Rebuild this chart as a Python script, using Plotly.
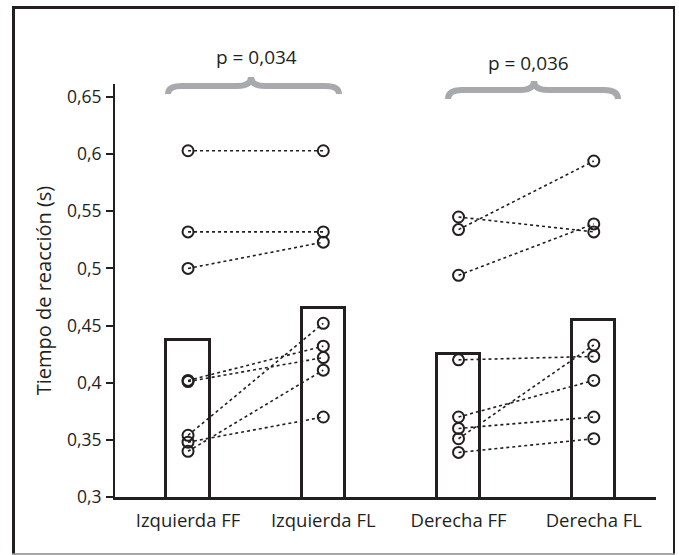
import plotly.graph_objects as go

categories = ["Izquierda FF", "Izquierda FL", "Derecha FF", "Derecha FL"]
bar_means = [0.437, 0.4655, 0.425, 0.4545]

izq_ff = [0.603, 0.532, 0.500, 0.402, 0.401, 0.354, 0.348, 0.340]
izq_fl = [0.603, 0.532, 0.523, 0.432, 0.422, 0.452, 0.370, 0.411]
der_ff = [0.545, 0.534, 0.494, 0.420, 0.370, 0.360, 0.351, 0.339]
der_fl = [0.532, 0.594, 0.539, 0.423, 0.402, 0.370, 0.433, 0.351]

tick_vals = [0.3, 0.35, 0.4, 0.45, 0.5, 0.55, 0.6, 0.65]
tick_text = ["0,3", "0,35", "0,4", "0,45", "0,5", "0,55", "0,6", "0,65"]
p_labels = ["p = 0,034", "p = 0,036"]

DARK = "#231f20"
GRAY = "#a7a9ac"
FONT = "Open Sans"

W, H = 679, 555
ML, MR, MT, MB = 115, 23, 84, 58
PW = W - ML - MR
PH = H - MT - MB


def px(x):
    return (x - ML) / PW


def py(y):
    return (H - MB - y) / PH


fig = go.Figure()

fig.add_trace(go.Bar(
    x=categories, y=bar_means, width=0.32,
    marker=dict(color="white", line=dict(color=DARK, width=3)),
    showlegend=False, hoverinfo="skip",
))

pairs = [(categories[0], categories[1], izq_ff, izq_fl),
         (categories[2], categories[3], der_ff, der_fl)]
for c0, c1, a, b in pairs:
    for v0, v1 in zip(a, b):
        fig.add_trace(go.Scatter(
            x=[c0, c1], y=[v0, v1], mode="lines",
            line=dict(color=DARK, width=1.6, dash="dot"),
            showlegend=False, hoverinfo="skip",
        ))

for cat, vals in zip(categories, [izq_ff, izq_fl, der_ff, der_fl]):
    fig.add_trace(go.Scatter(
        x=[cat] * len(vals), y=vals, mode="markers",
        marker=dict(symbol="circle-open", size=11, color=DARK,
                    line=dict(width=2, color=DARK)),
        showlegend=False,
    ))


def brace(x0, x1, xc, y_end, y_arm, y_peak, r=14):
    X0, X1, XC = px(x0), px(x1), px(xc)
    dx = r / PW
    YE, YA, YP = py(y_end), py(y_arm), py(y_peak)
    return (f"M {X0},{YE} Q {X0},{YA} {X0+dx},{YA} L {XC-dx},{YA} "
            f"Q {XC},{YA} {XC},{YP} Q {XC},{YA} {XC+dx},{YA} "
            f"L {X1-dx},{YA} Q {X1},{YA} {X1},{YE}")


shapes = [
    dict(type="path", xref="paper", yref="paper",
         path=brace(168, 339, 251, 94, 86, 77),
         line=dict(color=GRAY, width=6)),
    dict(type="path", xref="paper", yref="paper",
         path=brace(448, 618, 534, 99, 90, 81),
         line=dict(color=GRAY, width=6)),
    # outer frame
    dict(type="line", xref="paper", yref="paper", x0=px(13.5), x1=px(13.5),
         y0=py(6), y1=py(554), line=dict(color=DARK, width=3)),
    dict(type="line", xref="paper", yref="paper", x0=px(12), x1=px(674.5),
         y0=py(7.5), y1=py(7.5), line=dict(color=DARK, width=3)),
    dict(type="line", xref="paper", yref="paper", x0=px(674), x1=px(674),
         y0=py(6), y1=py(554), line=dict(color=DARK, width=2)),
    dict(type="line", xref="paper", yref="paper", x0=px(12), x1=px(675),
         y0=py(554), y1=py(554), line=dict(color="#888888", width=1.5)),
]

annotations = [
    dict(text=p_labels[0], xref="paper", yref="paper", x=px(256), y=py(57),
         xanchor="center", yanchor="middle", showarrow=False,
         font=dict(family=FONT, size=19, color=DARK)),
    dict(text=p_labels[1], xref="paper", yref="paper", x=px(528), y=py(63),
         xanchor="center", yanchor="middle", showarrow=False,
         font=dict(family=FONT, size=19, color=DARK)),
]

fig.update_layout(
    width=W, height=H,
    margin=dict(l=ML, r=MR, t=MT, b=MB),
    paper_bgcolor="white", plot_bgcolor="white",
    font=dict(family=FONT, size=18, color=DARK),
    shapes=shapes, annotations=annotations,
    showlegend=False, bargap=0,
)

fig.update_xaxes(
    type="category", range=[-0.54, 3.46],
    showline=True, linecolor=DARK, linewidth=3,
    ticks="", showgrid=False, zeroline=False,
    tickfont=dict(family=FONT, size=18.5, color=DARK),
    ticklabelstandoff=5,
)
fig.update_yaxes(
    range=[0.3, 0.6614], tickvals=tick_vals, ticktext=tick_text,
    showline=True, linecolor=DARK, linewidth=2,
    ticks="outside", ticklen=7, tickwidth=1.5, tickcolor=DARK,
    showgrid=False, zeroline=False,
    tickfont=dict(family=FONT, size=17.5, color=DARK),
    ticklabelstandoff=1,
    title=dict(text="Tiempo de reacción (s)", standoff=10,
               font=dict(family=FONT, size=20, color=DARK)),
)

fig.write_html(
    "out.html",
    config={"displayModeBar": False},
    post_script="document.body.style.margin='0';"
                "document.body.style.overflow='hidden';",
)
